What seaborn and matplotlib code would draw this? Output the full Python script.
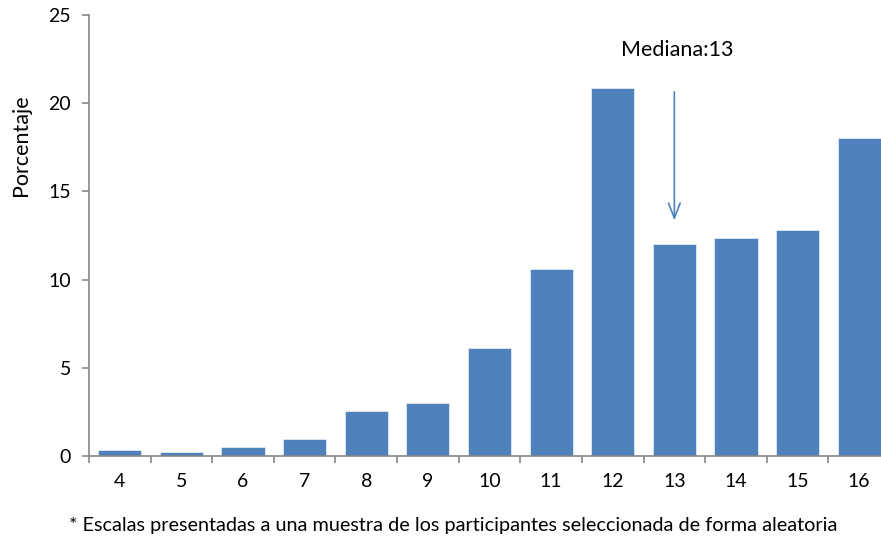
import matplotlib
matplotlib.use("Agg")
import matplotlib.pyplot as plt
import seaborn as sns
import pandas as pd
import numpy as np

categorias = ["4", "5", "6", "7", "8", "9", "10", "11", "12", "13", "14", "15", "16"]
porcentaje = [0.35, 0.25, 0.5, 0.95, 2.55, 3.0, 6.1, 10.6, 20.85, 12.0, 12.35, 12.8, 18.0]
mediana = "13"

sns.set_theme(style="white")
plt.rcParams['font.family'] = ['Lato', 'DejaVu Sans']

df = pd.DataFrame({"cat": categorias, "pct": porcentaje})

fig = plt.figure(figsize=(8.81, 5.39), dpi=100)
ax = fig.add_axes([89/881, 1 - 456/539, (890 - 89)/881, (456 - 15)/539])

sns.barplot(data=df, x="cat", y="pct", color="#4F81BD", saturation=1, width=0.7,
            edgecolor="white", linewidth=0.4, ax=ax)

ax.set_ylim(0, 25)
ax.set_xlim(-0.5, len(categorias) - 0.5)
ax.set_yticks([0, 5, 10, 15, 20, 25])
ax.set_xlabel("")
ax.set_ylabel("Porcentaje", fontsize=15.5, color="black")
ax.yaxis.set_label_coords(-0.073, 0.705)

for s in ["top", "right"]:
    ax.spines[s].set_visible(False)
for s in ["left", "bottom"]:
    ax.spines[s].set_color("#868686")
    ax.spines[s].set_linewidth(1.2)

ax.tick_params(axis="y", direction="out", length=5, width=1.2, color="#868686",
               labelsize=14, labelcolor="black", left=True, pad=8)
ax.tick_params(axis="x", which="major", length=0, labelsize=14, labelcolor="black", pad=12)
ax.set_xticks(np.arange(-0.5, len(categorias), 1.0), minor=True)
ax.tick_params(axis="x", which="minor", direction="out", length=5, width=1.2,
               color="#868686", bottom=True)

xi = categorias.index(mediana)
ax.annotate("", xy=(xi, 13.2), xytext=(xi, 20.8),
            arrowprops=dict(arrowstyle="->,head_length=0.9,head_width=0.35",
                            color="#4F81BD", lw=1.2))
ax.text(xi + 0.05, 23.0, "Mediana:" + mediana, ha="center", va="center",
        fontsize=15.5, color="black")

fig.text(453/881, 1 - 525/539,
         "* Escalas presentadas a una muestra de los participantes seleccionada de forma aleatoria",
         ha="center", va="center", fontsize=14.3, color="black")

fig.savefig("out.png", dpi=100)
